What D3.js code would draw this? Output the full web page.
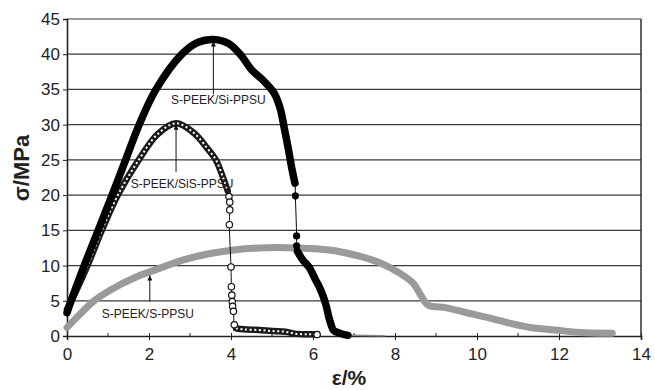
<!DOCTYPE html>
<html>
<head>
<meta charset="utf-8">
<script src="https://cdn.jsdelivr.net/npm/d3@7/dist/d3.min.js"></script>
<style>
  body { margin: 0; background: #fff; }
  text { font-family: "Liberation Sans", Arial, sans-serif; fill: #222; }
</style>
</head>
<body>
<div id="chart"></div>
<script>
// axis ticks
const strainTicks = [0, 2, 4, 6, 8, 10, 12, 14];
const strainMinor = [1, 3, 5, 7, 9, 11, 13];
const stressTicks = [0, 5, 10, 15, 20, 25, 30, 35, 40, 45];

// S-PEEK/Si-PPSU (filled markers) - dense rise, sparse drop, dense tail
const siRiseStrain = [0, 0.1, 0.42, 0.76, 1.1, 1.43, 1.76, 2.17, 2.8, 3.2, 3.57, 3.95, 4.25, 4.5, 4.8, 5.05, 5.2, 5.3, 5.4, 5.49, 5.56];
const siRiseStress = [3.3, 5, 10, 15, 20, 25, 30, 35, 40, 41.7, 42.1, 41.5, 39.8, 37.8, 36.2, 34.5, 32.3, 29.5, 26.5, 23.6, 21.7];
const siDropStrain = [5.57, 5.6, 5.6];
const siDropStress = [19.9, 14.2, 12.8];
const siTailStrain = [5.62, 5.75, 5.9, 6.06, 6.15, 6.25, 6.33, 6.38, 6.43, 6.5, 6.65, 6.85];
const siTailStress = [12.0, 10.8, 9.8, 8.0, 7.0, 5.6, 4.1, 2.8, 1.8, 0.8, 0.4, 0.1];
const siEndStrain = [6.85, 7.75];
const siEndStress = [0.1, 0.05];

// S-PEEK/SiS-PPSU (open markers)
const sisRiseStrain = [0, 0.15, 0.5, 0.85, 1.24, 1.75, 2.2, 2.66, 3.1, 3.4, 3.63, 3.8, 3.92];
const sisRiseStress = [3.8, 5.5, 10, 15, 20, 25, 28.6, 30.2, 28.8, 26.8, 25, 22.6, 20.6];
const sisDropStrain = [3.95, 3.97, 3.97, 3.96, 4.0, 4.01, 4.02, 4.03, 4.04, 4.06, 4.08];
const sisDropStress = [19.8, 19.0, 17.9, 15.8, 9.8, 7.0, 5.8, 4.9, 4.2, 3.5, 1.6];
const sisTailStrain = [4.12, 4.3, 4.68, 5.0, 5.33, 5.6, 5.9, 6.1];
const sisTailStress = [1.1, 0.95, 0.85, 0.7, 0.6, 0.3, 0.25, 0.2];

// S-PEEK/S-PPSU (grey band)
const sStrain = [0, 0.3, 0.64, 1.05, 1.7, 2.02, 2.84, 3.4, 4.06, 4.7, 5.6, 6.4, 7.15, 7.63, 8.12, 8.44, 8.65, 8.8, 9.26, 9.75, 10.32, 10.88, 11.3, 11.9, 12.5, 13.3];
const sStress = [1.2, 3.0, 4.9, 6.5, 8.4, 9.1, 10.8, 11.6, 12.2, 12.5, 12.5, 12.2, 11.3, 10.4, 8.9, 7.5, 5.6, 4.4, 4.0, 3.3, 2.55, 1.7, 1.2, 0.85, 0.5, 0.4];

// annotations: label, arrow tip (data), arrow tail (data), label anchor
const noteLabels = ['S-PEEK/Si-PPSU', 'S-PEEK/SiS-PPSU', 'S-PEEK/S-PPSU'];
const noteStrain = [3.57, 2.66, 2.02];
const noteTipStress = [41.8, 30.0, 8.6];
const noteTailStress = [34.3, 23.3, 4.9];
const noteTextStress = [33.0, 21.0, 2.5];

const width = 655, height = 390;
const svg = d3.select('#chart').append('svg')
  .attr('width', width)
  .attr('height', height);

const x = d3.scaleLinear().domain([0, 14]).range([67, 641]);
const y = d3.scaleLinear().domain([0, 45]).range([336, 19]);

const zip = (a, b) => a.map((v, i) => [v, b[i]]);

// horizontal grid
svg.append('g')
  .selectAll('line')
  .data(stressTicks.slice(1))
  .enter().append('line')
  .attr('x1', x(0)).attr('x2', x(14))
  .attr('y1', d => y(d)).attr('y2', d => y(d))
  .attr('stroke', '#3a3a3a').attr('stroke-width', 1.2);

// right border
svg.append('line')
  .attr('x1', x(14)).attr('x2', x(14))
  .attr('y1', y(45)).attr('y2', y(0))
  .attr('stroke', '#222').attr('stroke-width', 1.4);

// y axis
const yAxis = d3.axisLeft(y).tickValues(stressTicks).tickSize(4).tickPadding(3);
const yg = svg.append('g')
  .attr('transform', `translate(${x(0)},0)`)
  .call(yAxis);
yg.select('.domain').attr('stroke', '#222').attr('stroke-width', 1.6);
yg.selectAll('.tick line').attr('stroke', '#222');
yg.selectAll('text').attr('font-size', 17).style('fill', '#222');

// x axis
const xAxis = d3.axisBottom(x).tickValues(strainTicks).tickSize(4).tickPadding(8);
const xg = svg.append('g')
  .attr('transform', `translate(0,${y(0)})`)
  .call(xAxis);
xg.select('.domain').attr('stroke', '#222').attr('stroke-width', 1.6);
xg.selectAll('.tick line').attr('y1', -3).attr('stroke', '#222');
xg.selectAll('text').attr('font-size', 17).style('fill', '#222');
xg.selectAll('.minor')
  .data(strainMinor)
  .enter().append('line')
  .attr('class', 'minor')
  .attr('x1', d => x(d)).attr('x2', d => x(d))
  .attr('y1', -3).attr('y2', 0)
  .attr('stroke', '#222');

// axis titles
svg.append('text')
  .attr('transform', 'translate(29,168) rotate(-90)')
  .attr('text-anchor', 'middle')
  .attr('font-size', 22)
  .attr('font-weight', 'bold')
  .text('σ/MPa');

svg.append('text')
  .attr('x', 349).attr('y', 385)
  .attr('text-anchor', 'middle')
  .attr('font-size', 21)
  .attr('font-weight', 'bold')
  .text('ε/%');

const line = d3.line()
  .x(d => x(d[0]))
  .y(d => y(d[1]))
  .curve(d3.curveCatmullRom.alpha(0.5));

const plot = svg.append('g');

// faint zero-level trace after Si-PPSU failure
plot.append('path')
  .datum(zip(siEndStrain, siEndStress))
  .attr('d', line)
  .attr('fill', 'none')
  .attr('stroke', '#888')
  .attr('stroke-width', 1.5);

// S-PPSU grey band
plot.append('path')
  .datum(zip(sStrain, sStress))
  .attr('d', line)
  .attr('fill', 'none')
  .attr('stroke', '#9a9a9a')
  .attr('stroke-width', 7)
  .attr('stroke-linecap', 'round');

// SiS-PPSU
const sisAll = zip(sisRiseStrain, sisRiseStress)
  .concat(zip(sisDropStrain, sisDropStress))
  .concat(zip(sisTailStrain, sisTailStress));
plot.append('path')
  .datum(sisAll)
  .attr('d', line)
  .attr('fill', 'none')
  .attr('stroke', '#111')
  .attr('stroke-width', 1);
[zip(sisRiseStrain, sisRiseStress), zip(sisTailStrain, sisTailStress)].forEach(seg => {
  plot.append('path')
    .datum(seg)
    .attr('d', line)
    .attr('fill', 'none')
    .attr('stroke', '#1a1a1a')
    .attr('stroke-width', 6.5)
    .attr('stroke-linecap', 'round');
  plot.append('path')
    .datum(seg)
    .attr('d', line)
    .attr('fill', 'none')
    .attr('stroke', '#fff')
    .attr('stroke-width', 2)
    .attr('stroke-dasharray', '2,2.6');
});
plot.selectAll('.sis-dot')
  .data(zip(sisDropStrain, sisDropStress).concat([[sisTailStrain[sisTailStrain.length - 1], sisTailStress[sisTailStress.length - 1]]]))
  .enter().append('circle')
  .attr('class', 'sis-dot')
  .attr('cx', d => x(d[0])).attr('cy', d => y(d[1]))
  .attr('r', 3.2)
  .attr('fill', '#fff')
  .attr('stroke', '#111')
  .attr('stroke-width', 1.2);

// Si-PPSU
const siAll = zip(siRiseStrain, siRiseStress)
  .concat(zip(siDropStrain, siDropStress))
  .concat(zip(siTailStrain, siTailStress));
plot.append('path')
  .datum(siAll)
  .attr('d', line)
  .attr('fill', 'none')
  .attr('stroke', '#000')
  .attr('stroke-width', 1);
[zip(siRiseStrain, siRiseStress), zip(siTailStrain, siTailStress)].forEach(seg => {
  plot.append('path')
    .datum(seg)
    .attr('d', line)
    .attr('fill', 'none')
    .attr('stroke', '#000')
    .attr('stroke-width', 7.5)
    .attr('stroke-linecap', 'round');
});
plot.selectAll('.si-dot')
  .data(zip(siDropStrain, siDropStress))
  .enter().append('circle')
  .attr('class', 'si-dot')
  .attr('cx', d => x(d[0])).attr('cy', d => y(d[1]))
  .attr('r', 3.6)
  .attr('fill', '#000');

// annotations
svg.append('defs').append('marker')
  .attr('id', 'arrow')
  .attr('viewBox', '0 0 10 10')
  .attr('refX', 10).attr('refY', 5)
  .attr('markerWidth', 7).attr('markerHeight', 5)
  .attr('orient', 'auto')
  .append('path')
  .attr('d', 'M0,0 L10,5 L0,10 z')
  .attr('fill', '#111');

const notes = svg.append('g');
noteLabels.forEach((label, i) => {
  notes.append('line')
    .attr('x1', x(noteStrain[i])).attr('x2', x(noteStrain[i]))
    .attr('y1', y(noteTailStress[i])).attr('y2', y(noteTipStress[i]))
    .attr('stroke', '#111').attr('stroke-width', 1)
    .attr('marker-end', 'url(#arrow)');
  notes.append('text')
    .attr('x', x(noteStrain[i]) + [5, 6, -2][i])
    .attr('y', y(noteTextStress[i]))
    .attr('text-anchor', 'middle')
    .attr('font-size', 12)
    .text(label);
});
</script>
</body>
</html>
